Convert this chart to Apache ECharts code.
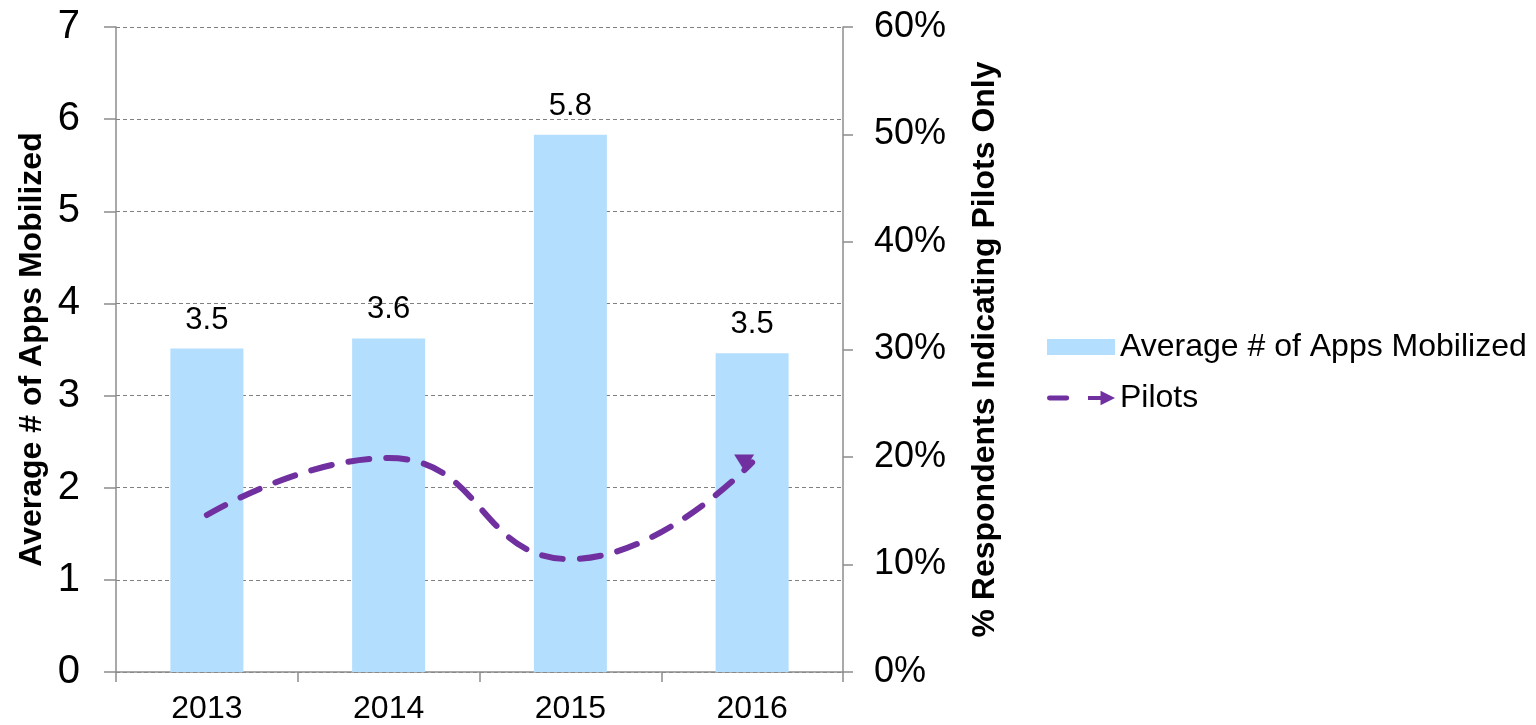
<!DOCTYPE html>
<html>
<head>
<meta charset="utf-8">
<script src="https://cdn.jsdelivr.net/npm/echarts@6/dist/echarts.min.js"></script>
<style>
  html, body { margin: 0; padding: 0; background: #fff; }
  #chart { width: 1536px; height: 725px; }
</style>
</head>
<body>
<div id="chart"></div>
<script>
// data
const years = ['2013', '2014', '2015', '2016'];
const appsMobilized = [3.51, 3.62, 5.83, 3.46];
const pilotsPct = [14.6, 19.9, 10.5, 19.5];

const barColor = '#B4DEFD';
const lineColor = '#7030A0';
const axisGray = '#8C8C8C';
const font = '"Liberation Sans", Arial, sans-serif';

// dash + arrow legend icon, like the office one
const pilotIcon = 'path://M2,5.5 L20,5.5 A2.5,2.5 0 0 1 20,10.5 L2,10.5 A2.5,2.5 0 0 1 2,5.5 Z M42,6 L55,6 L55,0.5 L70,8 L55,15.5 L55,10 L42,10 Z';
// arrow head at the end of the line, pointing down like the reference
const arrowHead = 'path://M0,0 L20,0 L10,16 Z';

const chart = echarts.init(document.getElementById('chart'));

const option = {
  backgroundColor: '#fff',
  animation: false,
  textStyle: { fontFamily: font, color: '#000' },
  grid: { left: 116, right: 693, top: 27, bottom: 50 },
  legend: {
    orient: 'vertical',
    left: 1042,
    top: 326,
    itemWidth: 68,
    itemHeight: 16,
    itemGap: 19,
    textStyle: { fontSize: 32, color: '#000', fontFamily: font },
    data: [
      { name: 'Average # of Apps Mobilized', icon: 'rect', itemStyle: { color: barColor, borderWidth: 0 } },
      { name: 'Pilots', icon: pilotIcon, itemStyle: { color: lineColor, borderWidth: 0 } }
    ]
  },
  xAxis: {
    type: 'category',
    data: years,
    axisLine: { lineStyle: { color: axisGray, width: 1.5 } },
    axisTick: { show: true, length: 10, lineStyle: { color: axisGray, width: 1.5 } },
    axisLabel: { fontSize: 32, color: '#000', margin: 21 }
  },
  yAxis: [
    {
      type: 'value',
      min: 0,
      max: 7,
      interval: 1,
      name: 'Average # of Apps Mobilized',
      nameLocation: 'middle',
      nameGap: 68,
      nameTextStyle: { fontSize: 32, fontWeight: 'bold', color: '#000' },
      axisLine: { show: true, lineStyle: { color: axisGray, width: 1.5 } },
      axisTick: { show: true, length: 12, lineStyle: { color: axisGray, width: 1.5 } },
      axisLabel: { fontSize: 40, color: '#000', margin: 36 },
      splitLine: { show: true, lineStyle: { color: '#808080', type: [4, 3], width: 1.2 } }
    },
    {
      type: 'value',
      min: 0,
      max: 60,
      interval: 10,
      position: 'right',
      name: '% Respondents Indicating Pilots Only',
      nameLocation: 'middle',
      nameGap: 126,
      nameTextStyle: { fontSize: 32, fontWeight: 'bold', color: '#000' },
      axisLine: { show: true, lineStyle: { color: axisGray, width: 1.5 } },
      axisTick: { show: true, length: 10, lineStyle: { color: axisGray, width: 1.5 } },
      axisLabel: { fontSize: 36, color: '#000', margin: 31, formatter: '{value}%' },
      splitLine: { show: false }
    }
  ],
  series: [
    {
      name: 'Average # of Apps Mobilized',
      type: 'bar',
      yAxisIndex: 0,
      data: appsMobilized,
      barWidth: 73,
      itemStyle: { color: barColor },
      label: {
        show: true,
        position: 'top',
        distance: 13,
        fontSize: 31,
        color: '#000',
        formatter: p => p.value.toFixed(1)
      }
    },
    {
      name: 'Pilots',
      type: 'line',
      yAxisIndex: 1,
      smooth: 0.5,
      symbol: 'none',
      showSymbol: true,
      data: pilotsPct.map((v, i) => i === pilotsPct.length - 1
        ? { value: v, symbol: arrowHead, symbolSize: [20, 16], symbolOffset: [-8, 0], itemStyle: { color: lineColor } }
        : v),
      itemStyle: { color: lineColor },
      lineStyle: { color: lineColor, width: 6, type: [21, 17], cap: 'round' },
      z: 5
    }
  ]
};

chart.setOption(option);
window.addEventListener('resize', () => chart.resize());
</script>
</body>
</html>
